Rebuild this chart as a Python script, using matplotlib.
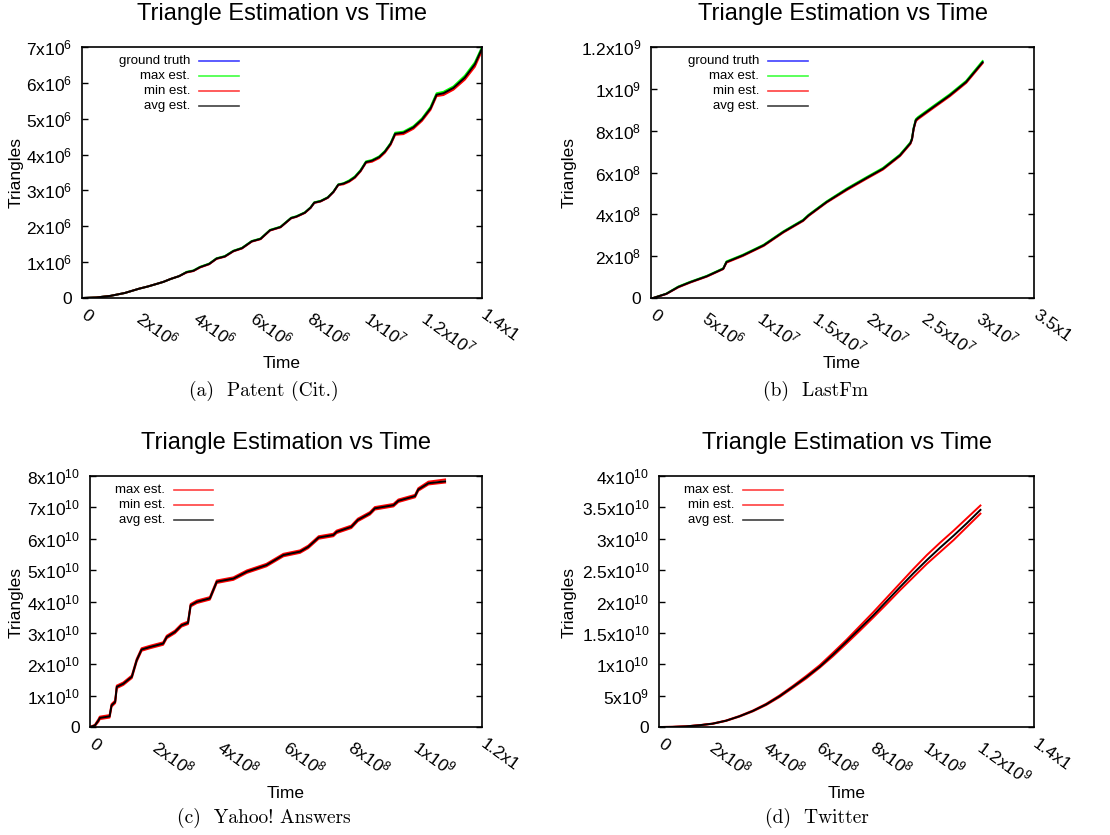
import numpy as np
import matplotlib
matplotlib.use("Agg")
import matplotlib.pyplot as plt
from matplotlib.transforms import ScaledTranslation

plt.rcParams['font.family'] = ['Liberation Sans', 'DejaVu Sans']
plt.rcParams['mathtext.fontset'] = 'custom'
plt.rcParams['mathtext.rm'] = 'Liberation Sans'
plt.rcParams['mathtext.it'] = 'Liberation Sans:italic'

W, H = 1110, 835

# (a) Patent (Cit.) : temps en 1e6, triangles en 1e6
time_a = [0, 0.5, 1.0, 1.5, 2.0, 2.3, 2.6, 2.85, 3.1, 3.4, 3.66, 3.9, 4.13, 4.45, 4.71,
          5.0, 5.30, 5.6, 5.94, 6.25, 6.58, 6.95, 7.32, 7.5, 7.8, 8.0, 8.13, 8.35, 8.6,
          8.8, 8.97, 9.15, 9.35, 9.55, 9.75, 9.94, 10.15, 10.4, 10.6, 10.8, 10.96, 11.25,
          11.6, 11.9, 12.2, 12.41, 12.65, 13.0, 13.4, 13.75, 14.0]
truth_a = [0, 0.015, 0.06, 0.14, 0.26, 0.32, 0.39, 0.45, 0.53, 0.61, 0.72, 0.76, 0.86, 0.95, 1.10,
           1.16, 1.31, 1.39, 1.58, 1.65, 1.89, 1.98, 2.23, 2.27, 2.38, 2.52, 2.66, 2.70, 2.80,
           2.96, 3.16, 3.19, 3.26, 3.37, 3.55, 3.79, 3.83, 3.93, 4.08, 4.30, 4.58, 4.61,
           4.76, 4.98, 5.30, 5.67, 5.71, 5.86, 6.15, 6.52, 6.97]
max_a = [0, 0.015, 0.06, 0.14, 0.26, 0.32, 0.39, 0.45, 0.53, 0.61, 0.73, 0.77, 0.87, 0.96, 1.11,
         1.17, 1.32, 1.40, 1.59, 1.66, 1.90, 1.99, 2.24, 2.28, 2.39, 2.53, 2.67, 2.71, 2.81,
         2.97, 3.17, 3.20, 3.28, 3.39, 3.57, 3.81, 3.85, 3.95, 4.10, 4.32, 4.61, 4.64,
         4.79, 5.01, 5.33, 5.71, 5.75, 5.90, 6.20, 6.57, 7.00]
min_a = [0, 0.015, 0.06, 0.14, 0.26, 0.32, 0.39, 0.45, 0.53, 0.61, 0.71, 0.75, 0.85, 0.94, 1.09,
         1.15, 1.30, 1.38, 1.57, 1.64, 1.88, 1.97, 2.22, 2.26, 2.37, 2.51, 2.65, 2.69, 2.79,
         2.95, 3.15, 3.17, 3.24, 3.35, 3.53, 3.77, 3.80, 3.90, 4.05, 4.27, 4.55, 4.57,
         4.72, 4.94, 5.25, 5.63, 5.66, 5.81, 6.09, 6.45, 6.90]
avg_a = [0, 0.015, 0.06, 0.14, 0.26, 0.32, 0.39, 0.45, 0.53, 0.61, 0.72, 0.76, 0.86, 0.95, 1.10,
         1.16, 1.31, 1.39, 1.58, 1.65, 1.89, 1.98, 2.23, 2.27, 2.38, 2.52, 2.66, 2.70, 2.80,
         2.96, 3.16, 3.19, 3.26, 3.37, 3.55, 3.79, 3.83, 3.93, 4.08, 4.30, 4.58, 4.61,
         4.76, 4.98, 5.29, 5.67, 5.71, 5.86, 6.15, 6.52, 6.96]

# (b) LastFm : temps en 1e6, triangles en 1e8
time_b = [0.2, 1.4, 2.5, 3.6, 5.1, 6.6, 6.9, 8.4, 10.3, 12.1, 13.9, 14.4, 16.05, 17.9,
          19.7, 21.2, 22.75, 23.7, 23.85, 24.0, 24.2, 24.4, 25.8, 27.3, 28.8, 30.3]
truth_b = [0, 0.2, 0.53, 0.76, 1.04, 1.40, 1.72, 2.04, 2.52, 3.16, 3.71, 3.95, 4.59, 5.20,
           5.74, 6.18, 6.82, 7.40, 7.60, 8.10, 8.50, 8.60, 9.13, 9.69, 10.33, 11.28]
max_b = [0, 0.21, 0.55, 0.78, 1.06, 1.42, 1.75, 2.07, 2.55, 3.19, 3.74, 3.98, 4.62, 5.24,
         5.78, 6.22, 6.86, 7.44, 7.64, 8.14, 8.55, 8.65, 9.18, 9.74, 10.38, 11.33]
min_b = [0, 0.19, 0.51, 0.74, 1.02, 1.38, 1.69, 2.01, 2.49, 3.13, 3.68, 3.92, 4.56, 5.16,
         5.70, 6.14, 6.78, 7.36, 7.56, 8.06, 8.45, 8.55, 9.08, 9.64, 10.28, 11.22]
avg_b = [0, 0.2, 0.53, 0.76, 1.04, 1.40, 1.72, 2.04, 2.52, 3.16, 3.71, 3.95, 4.59, 5.20,
         5.74, 6.18, 6.82, 7.40, 7.60, 8.10, 8.50, 8.60, 9.13, 9.69, 10.33, 11.27]

# (c) Yahoo! Answers : temps en 1e8, triangles en 1e10
time_c = [0, 0.15, 0.26, 0.3, 0.6, 0.66, 0.77, 0.82, 1.02, 1.28, 1.43, 1.58, 1.84, 2.24,
          2.35, 2.6, 2.8, 3.0, 3.08, 3.27, 3.67, 3.88, 4.39, 4.8, 5.4, 5.92, 6.43, 6.68,
          7.0, 7.45, 7.55, 8.0, 8.2, 8.57, 8.72, 9.29, 9.44, 9.95, 10.05, 10.36, 10.87]
max_c = [0, 0.07, 0.25, 0.33, 0.38, 0.73, 0.84, 1.32, 1.42, 1.64, 2.17, 2.51, 2.59, 2.70,
         2.91, 3.07, 3.28, 3.36, 3.92, 4.03, 4.14, 4.67, 4.77, 4.99, 5.20, 5.52, 5.63, 5.78,
         6.08, 6.16, 6.26, 6.42, 6.64, 6.85, 7.01, 7.11, 7.25, 7.40, 7.61, 7.82, 7.89]
min_c = [0, 0.03, 0.17, 0.25, 0.30, 0.65, 0.76, 1.24, 1.34, 1.56, 2.09, 2.43, 2.51, 2.62,
         2.83, 2.99, 3.20, 3.28, 3.84, 3.95, 4.06, 4.59, 4.69, 4.91, 5.12, 5.44, 5.55, 5.70,
         6.00, 6.08, 6.18, 6.34, 6.56, 6.77, 6.93, 7.03, 7.17, 7.32, 7.53, 7.73, 7.79]
avg_c = [0, 0.05, 0.21, 0.29, 0.34, 0.69, 0.80, 1.28, 1.38, 1.60, 2.13, 2.47, 2.55, 2.66,
         2.87, 3.03, 3.24, 3.32, 3.88, 3.99, 4.10, 4.63, 4.73, 4.95, 5.16, 5.48, 5.59, 5.74,
         6.04, 6.12, 6.22, 6.38, 6.60, 6.81, 6.97, 7.07, 7.21, 7.36, 7.57, 7.77, 7.83]

# (d) Twitter : temps en 1e8, triangles en 1e10
time_d = [0, 0.5, 1.0, 1.5, 2.0, 2.5, 3.0, 3.5, 4.0, 4.5, 5.0, 5.5, 6.0, 6.5, 7.0, 7.5,
          8.0, 8.5, 9.0, 9.5, 10.0, 10.5, 11.0, 11.5, 12.0]
max_d = [0, 0.002, 0.010, 0.029, 0.055, 0.103, 0.175, 0.262, 0.370, 0.503, 0.655, 0.815,
         0.985, 1.185, 1.390, 1.610, 1.830, 2.060, 2.290, 2.520, 2.740, 2.940, 3.130, 3.330, 3.530]
min_d = [0, 0.002, 0.010, 0.027, 0.050, 0.097, 0.165, 0.248, 0.350, 0.477, 0.625, 0.775,
         0.945, 1.130, 1.330, 1.535, 1.745, 1.960, 2.180, 2.390, 2.600, 2.790, 2.980, 3.190, 3.400]
avg_d = [0, 0.002, 0.010, 0.028, 0.053, 0.100, 0.170, 0.255, 0.360, 0.490, 0.640, 0.795,
         0.960, 1.155, 1.360, 1.570, 1.780, 2.005, 2.230, 2.450, 2.660, 2.860, 3.050, 3.250, 3.460]

# graduations (les derniers libelles sont coupes dans l'original)
xvals_a = [0, 2e6, 4e6, 6e6, 8e6, 1e7, 1.2e7, 1.4e7]
xlabs_a = ['0', '2x10^6', '4x10^6', '6x10^6', '8x10^6', '1x10^7', '1.2x10^7', '1.4x1']
yvals_a = [0, 1e6, 2e6, 3e6, 4e6, 5e6, 6e6, 7e6]
ylabs_a = ['0', '1x10^6', '2x10^6', '3x10^6', '4x10^6', '5x10^6', '6x10^6', '7x10^6']
xvals_b = [0, 5e6, 1e7, 1.5e7, 2e7, 2.5e7, 3e7, 3.5e7]
xlabs_b = ['0', '5x10^6', '1x10^7', '1.5x10^7', '2x10^7', '2.5x10^7', '3x10^7', '3.5x1']
yvals_b = [0, 2e8, 4e8, 6e8, 8e8, 1e9, 1.2e9]
ylabs_b = ['0', '2x10^8', '4x10^8', '6x10^8', '8x10^8', '1x10^9', '1.2x10^9']
xvals_c = [0, 2e8, 4e8, 6e8, 8e8, 1e9, 1.2e9]
xlabs_c = ['0', '2x10^8', '4x10^8', '6x10^8', '8x10^8', '1x10^9', '1.2x1']
yvals_c = [0, 1e10, 2e10, 3e10, 4e10, 5e10, 6e10, 7e10, 8e10]
ylabs_c = ['0', '1x10^10', '2x10^10', '3x10^10', '4x10^10', '5x10^10', '6x10^10', '7x10^10', '8x10^10']
xvals_d = [0, 2e8, 4e8, 6e8, 8e8, 1e9, 1.2e9, 1.4e9]
xlabs_d = ['0', '2x10^8', '4x10^8', '6x10^8', '8x10^8', '1x10^9', '1.2x10^9', '1.4x1']
yvals_d = [0, 5e9, 1e10, 1.5e10, 2e10, 2.5e10, 3e10, 3.5e10, 4e10]
ylabs_d = ['0', '5x10^9', '1x10^10', '1.5x10^10', '2x10^10', '2.5x10^10', '3x10^10', '3.5x10^10', '4x10^10']

captions = ['(a)  Patent (Cit.)', '(b)  LastFm', '(c)  Yahoo! Answers', '(d)  Twitter']


def tex(s):
    if 'x10^' in s:
        m, e = s.split('x10^')
        return r'$\mathregular{' + m + 'x10^{' + e + '}}$'
    return s


def tracer(fig, box, series, xv, xl, yv, yl, title_xy, ylabel_xy, xlabel_xy, leg_text_dx, leg_line):
    l, t, r, b = box
    ax = fig.add_axes([l / W, 1 - b / H, (r - l) / W, (b - t) / H])
    for x, y, col, lab in series:
        ax.plot(x, y, color=col, lw=1.4, solid_joinstyle='round')
    ax.set_xlim(xv[0], xv[-1])
    ax.set_ylim(yv[0], yv[-1])
    ax.set_xticks(xv)
    ax.set_xticklabels([tex(s) for s in xl], rotation=-36, ha='left', va='top',
                       rotation_mode='anchor', fontsize=12.5)
    ax.set_yticks(yv)
    ax.set_yticklabels([tex(s) for s in yl], fontsize=12.5)
    ax.tick_params(axis='x', length=0, pad=7)
    ax.tick_params(axis='y', direction='in', length=4, width=1, right=True, pad=7)
    for sp in ax.spines.values():
        sp.set_linewidth(1.2)
    decal = ScaledTranslation(5 / 100, 0, fig.dpi_scale_trans)
    for lab in ax.get_xticklabels():
        lab.set_transform(lab.get_transform() + decal)

    # legende facon gnuplot : texte aligne a droite puis trait
    for i, (x, y, col, lab) in enumerate(series):
        yy = t + 14 + 15 * i
        fig.text((l + leg_text_dx) / W, 1 - yy / H, lab, ha='right', va='center', fontsize=9.5)
        fig.add_artist(plt.Line2D([(l + leg_line[0]) / W, (l + leg_line[1]) / W],
                                  [1 - yy / H, 1 - yy / H], color=col, lw=1.2, alpha=0.75))

    fig.text(title_xy[0] / W, 1 - title_xy[1] / H, 'Triangle Estimation vs Time',
             ha='center', va='center', fontsize=17)
    fig.text(ylabel_xy[0] / W, 1 - ylabel_xy[1] / H, 'Triangles', rotation=90,
             ha='center', va='center', fontsize=12.5)
    fig.text(xlabel_xy[0] / W, 1 - xlabel_xy[1] / H, 'Time', ha='center', va='center', fontsize=12.5)
    return ax


fig = plt.figure(figsize=(W / 100, H / 100), dpi=100)

ta = np.array(time_a) * 1e6
tracer(fig, (82, 47, 482, 298),
       [(ta, np.array(truth_a) * 1e6, '#0000ff', 'ground truth'),
        (ta, np.array(max_a) * 1e6, '#00ff00', 'max est.'),
        (ta, np.array(min_a) * 1e6, '#ff0000', 'min est.'),
        (ta, np.array(avg_a) * 1e6, '#000000', 'avg est.')],
       xvals_a, xlabs_a, yvals_a, ylabs_a, (282, 14), (16, 172), (282, 364), 108, (117, 157))

tb = np.array(time_b) * 1e6
tracer(fig, (651, 47, 1034, 298),
       [(tb, np.array(truth_b) * 1e8, '#0000ff', 'ground truth'),
        (tb, np.array(max_b) * 1e8, '#00ff00', 'max est.'),
        (tb, np.array(min_b) * 1e8, '#ff0000', 'min est.'),
        (tb, np.array(avg_b) * 1e8, '#000000', 'avg est.')],
       xvals_b, xlabs_b, yvals_b, ylabs_b, (843, 14), (569, 172), (842, 364), 108, (117, 157))

tc = np.array(time_c) * 1e8
tracer(fig, (90, 476, 482, 727),
       [(tc, np.array(max_c) * 1e10, '#ff0000', 'max est.'),
        (tc, np.array(min_c) * 1e10, '#ff0000', 'min est.'),
        (tc, np.array(avg_c) * 1e10, '#000000', 'avg est.')],
       xvals_c, xlabs_c, yvals_c, ylabs_c, (286, 443), (16, 602), (286, 793), 75, (84, 123))

td = np.array(time_d) * 1e8
tracer(fig, (659, 476, 1034, 727),
       [(td, np.array(max_d) * 1e10, '#ff0000', 'max est.'),
        (td, np.array(min_d) * 1e10, '#ff0000', 'min est.'),
        (td, np.array(avg_d) * 1e10, '#000000', 'avg est.')],
       xvals_d, xlabs_d, yvals_d, ylabs_d, (847, 443), (569, 602), (847, 793), 75, (84, 124))

# sous-titres des sous-figures (police type LaTeX)
cap_pos = [(264, 391), (816, 391), (264, 818), (817, 818)]
for cap, (cx, cy) in zip(captions, cap_pos):
    fig.text(cx / W, 1 - cy / H, cap, ha='center', va='center', fontsize=14,
             family=['cmr10', 'DejaVu Serif'])

fig.savefig('out.png', dpi=100)
